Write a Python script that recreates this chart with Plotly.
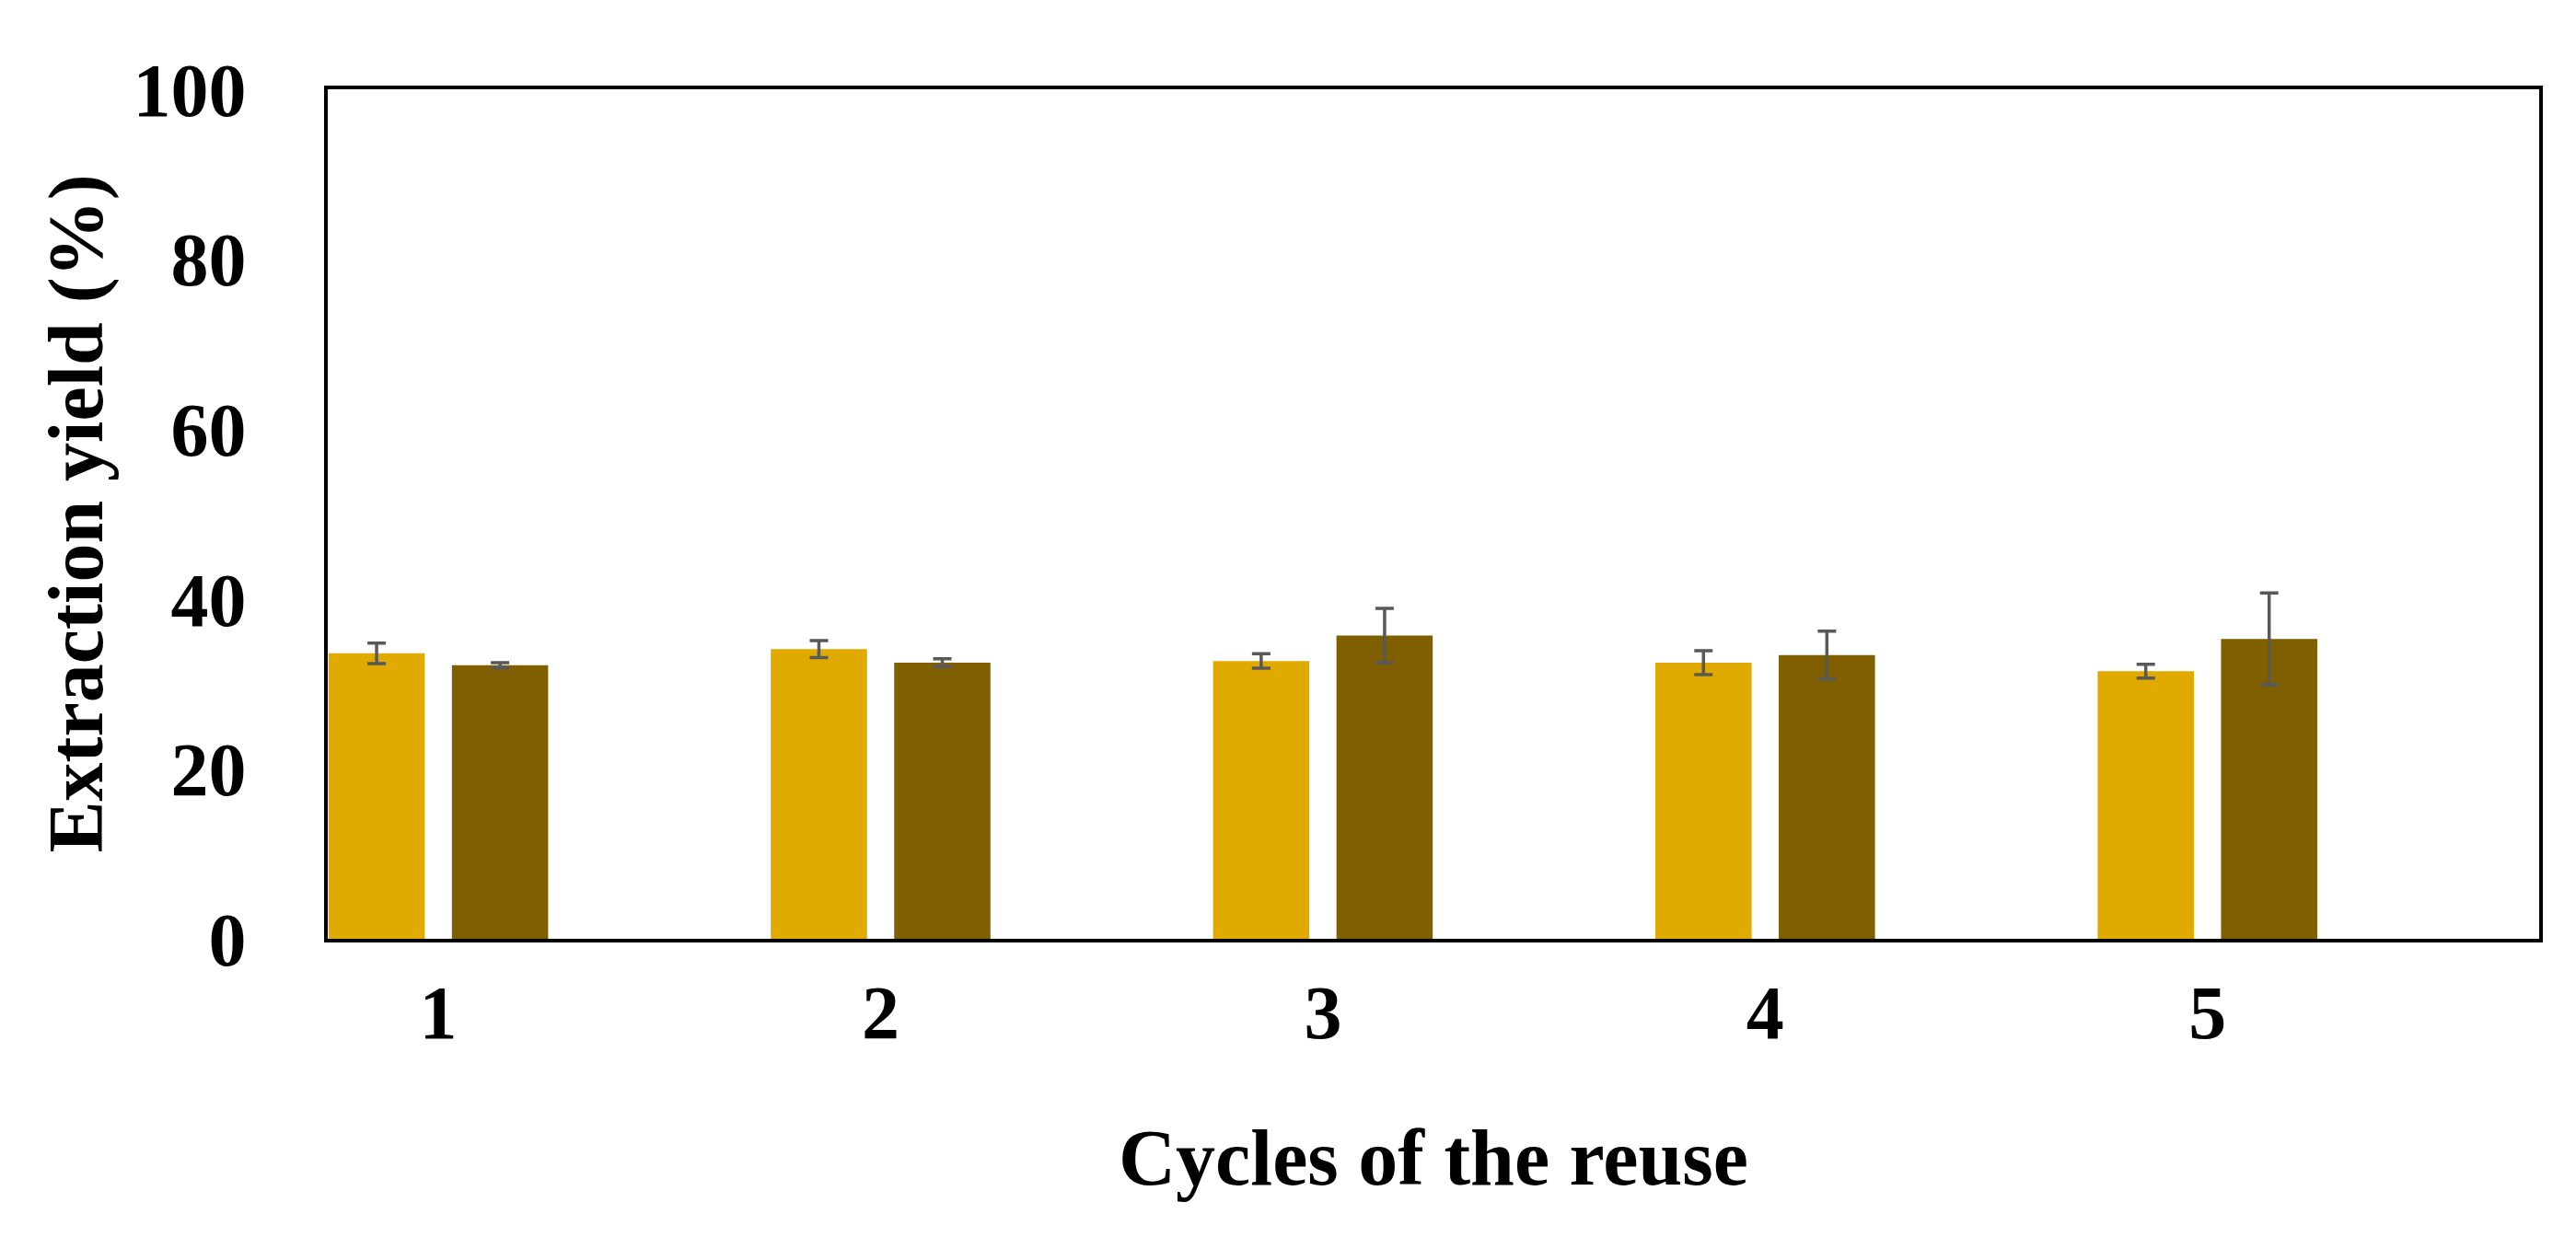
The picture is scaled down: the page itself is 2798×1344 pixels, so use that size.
import plotly.graph_objects as go

cycles = [1, 2, 3, 4, 5]
yield_a = [33.6, 34.1, 32.7, 32.5, 31.5]
err_a = [1.2, 1.0, 0.85, 1.4, 0.8]
yield_b = [32.2, 32.5, 35.7, 33.4, 35.3]
err_b = [0.3, 0.45, 3.2, 2.8, 5.4]
y_ticks = [0, 20, 40, 60, 80, 100]

FONT = "Liberation Serif"
ERR = "#595959"

fig = go.Figure()
fig.add_trace(go.Bar(
    x=cycles, y=yield_a, marker=dict(color="#E1AA00", line=dict(width=0)),
    error_y=dict(type="data", array=err_a, visible=True, color=ERR, thickness=3.5, width=10),
    showlegend=False,
))
fig.add_trace(go.Bar(
    x=cycles, y=yield_b, marker=dict(color="#7F5F00", line=dict(width=0)),
    error_y=dict(type="data", array=err_b, visible=True, color=ERR, thickness=3.5, width=10),
    showlegend=False,
))

fig.update_layout(
    width=2798, height=1344,
    margin=dict(l=348, r=48, t=89, b=332, pad=0),
    paper_bgcolor="white", plot_bgcolor="white",
    barmode="group", bargap=0.442, bargroupgap=0.22,
    font=dict(family=FONT, color="black"),
    xaxis=dict(
        range=[0.75, 5.75], tickmode="array", tickvals=cycles,
        ticktext=[str(c) for c in cycles],
        showgrid=False, zeroline=False, showline=True, linecolor="black",
        linewidth=4, mirror=True, ticks="",
        tickfont=dict(family=FONT, size=82, color="black", weight="bold"),
        ticklabelstandoff=6,
    ),
    yaxis=dict(
        range=[0, 100], tickmode="array", tickvals=y_ticks,
        showgrid=False, zeroline=False, showline=True, linecolor="black",
        linewidth=4, mirror=True, ticks="",
        tickfont=dict(family=FONT, size=82, color="black", weight="bold"),
        ticklabelstandoff=68,
    ),
    annotations=[
        dict(text="<b>Cycles of the reuse</b>", xref="paper", yref="paper",
             x=0.5, y=0, xanchor="center", yanchor="middle", yshift=-238,
             showarrow=False, font=dict(family=FONT, size=86, color="black")),
        dict(text="<b>Extraction yield (%)</b>", xref="paper", yref="paper",
             x=0, y=0.5, xanchor="center", yanchor="middle", xshift=-274,
             textangle=-90, showarrow=False,
             font=dict(family=FONT, size=84, color="black")),
    ],
)

fig.write_html("out.html")
